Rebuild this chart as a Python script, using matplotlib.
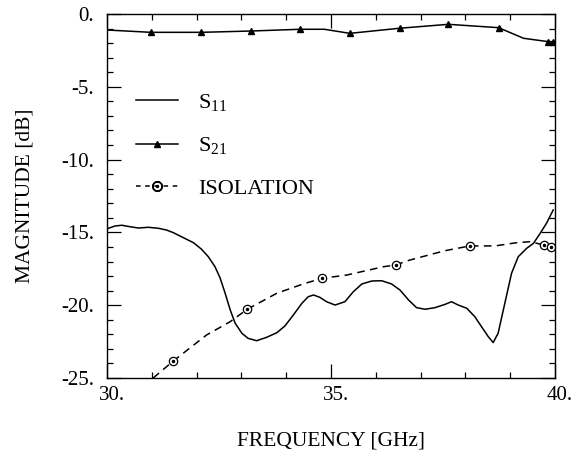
import matplotlib
matplotlib.use("Agg")
import matplotlib.pyplot as plt
import matplotlib.transforms as mtransforms
from matplotlib.ticker import MultipleLocator, FuncFormatter

plt.rcParams['font.family'] = ['Liberation Serif', 'DejaVu Serif']
plt.rcParams['axes.unicode_minus'] = False
plt.rcParams['mathtext.fontset'] = 'custom'
plt.rcParams['mathtext.rm'] = 'Liberation Serif'
plt.rcParams['mathtext.it'] = 'Liberation Serif'

# S21 trace
s21_f = [30.0, 30.98, 32.10, 33.21, 34.31, 34.85, 35.42, 36.53, 37.62, 38.74, 39.30, 39.85, 39.96]
s21_db = [-1.10, -1.26, -1.26, -1.17, -1.05, -1.05, -1.33, -0.98, -0.71, -0.94, -1.67, -1.90, -1.90]
s21_mf = [30.98, 32.10, 33.21, 34.31, 35.42, 36.53, 37.62, 38.74, 39.85, 39.96]
s21_mdb = [-1.26, -1.26, -1.17, -1.05, -1.33, -0.98, -0.71, -0.94, -1.90, -1.90]

# S11 trace
s11_f = [30.03, 30.18, 30.33, 30.51, 30.70, 30.92, 31.15, 31.33, 31.48, 31.63, 31.78, 31.93,
         32.11, 32.26, 32.41, 32.52, 32.63, 32.75, 32.86, 33.01, 33.15, 33.34, 33.56, 33.79,
         33.97, 34.16, 34.35, 34.49, 34.61, 34.75, 34.90, 35.09, 35.31, 35.50, 35.69, 35.91,
         36.13, 36.35, 36.54, 36.73, 36.91, 37.10, 37.32, 37.54, 37.69, 37.84, 38.03, 38.21,
         38.36, 38.51, 38.62, 38.73, 38.88, 39.03, 39.18, 39.37, 39.52, 39.67, 39.81, 39.96]
s11_db = [-14.72, -14.56, -14.51, -14.61, -14.70, -14.65, -14.72, -14.84, -15.02, -15.25, -15.48, -15.71,
          -16.16, -16.67, -17.36, -18.10, -19.12, -20.33, -21.24, -21.93, -22.28, -22.44, -22.21, -21.89,
          -21.43, -20.67, -19.87, -19.42, -19.30, -19.46, -19.76, -19.99, -19.76, -19.07, -18.54, -18.34,
          -18.32, -18.54, -18.96, -19.64, -20.17, -20.28, -20.17, -19.95, -19.76, -19.99, -20.21, -20.79,
          -21.48, -22.16, -22.57, -21.93, -19.87, -17.81, -16.67, -16.09, -15.75, -15.06, -14.38, -13.46]

# Isolation trace
iso_f = [31.03, 31.48, 32.22, 32.75, 33.13, 33.79, 34.38, 34.79, 35.35, 36.17, 36.44, 36.76,
         37.54, 38.10, 38.66, 39.14, 39.44, 39.76, 39.91]
iso_db = [-25.0, -23.83, -22.05, -21.13, -20.28, -19.18, -18.54, -18.16, -17.93, -17.36, -17.24, -16.90,
          -16.26, -15.93, -15.93, -15.71, -15.64, -15.87, -15.98]
iso_mf = [31.48, 33.13, 34.79, 36.44, 38.10, 39.76, 39.91]
iso_mdb = [-23.83, -20.28, -18.16, -17.24, -15.93, -15.87, -15.98]

fig = plt.figure(figsize=(5.85, 4.57), dpi=100)
ax = fig.add_axes([0.183, 0.1729, 0.7657, 0.7965])

ax.plot(s11_f, s11_db, color='black', lw=1.1)
ax.plot(s21_f, s21_db, color='black', lw=1.1)
ax.plot(s21_mf, s21_mdb, ls='none', marker='^', ms=5, color='black')
ax.plot(iso_f, iso_db, color='black', lw=1.1, ls=(0, (5, 3.5)))
ax.plot(iso_mf, iso_mdb, ls='none', marker='o', ms=6, mfc='white', mec='black', mew=0.9)
ax.plot(iso_mf, iso_mdb, ls='none', marker='o', ms=1.5, color='black')

# legend proxies
h1, = ax.plot([], [], color='black', lw=1.1)
h2, = ax.plot([], [], color='black', lw=1.1, marker='^', ms=5)
h3, = ax.plot([], [], color='black', lw=1.1, ls=(0, (3, 3)), marker='$\\odot$', ms=7)
leg = ax.legend([h1, h2, h3], ['S$_{11}$', 'S$_{21}$', 'ISOLATION'],
                loc='upper left', bbox_to_anchor=(0.02, 0.84), frameon=False,
                fontsize=16, numpoints=1, handlelength=1.9, handletextpad=0.9,
                labelspacing=1.0)

ax.set_xlim(30, 40)
ax.set_ylim(-25, 0)
ax.xaxis.set_major_locator(MultipleLocator(5))
ax.xaxis.set_minor_locator(MultipleLocator(1))
ax.yaxis.set_major_locator(MultipleLocator(5))
ax.yaxis.set_minor_locator(MultipleLocator(1))
fmt = FuncFormatter(lambda v, p: f"{int(round(v))}.")
ax.xaxis.set_major_formatter(fmt)
ax.yaxis.set_major_formatter(fmt)
ax.tick_params(which='both', direction='in', top=True, right=True, labelsize=15, width=0.9)
ax.tick_params(which='major', length=10)
ax.tick_params(which='minor', length=4)
ax.tick_params(axis='y', which='major', pad=9.5)
ax.tick_params(axis='x', which='major', pad=6)
for s in ax.spines.values():
    s.set_linewidth(1.0)

shift = mtransforms.ScaledTranslation(5 / 100, 0, fig.dpi_scale_trans)
for lab in ax.get_xticklabels():
    lab.set_transform(lab.get_transform() + shift)

ax.set_xlabel('FREQUENCY [GHz]', fontsize=15.5)
ax.xaxis.set_label_coords(0.5, -0.148)
ax.set_ylabel('MAGNITUDE [dB]', fontsize=15.5)
ax.yaxis.set_label_coords(-0.163, 0.5)

fig.savefig('out.png', dpi=100)
